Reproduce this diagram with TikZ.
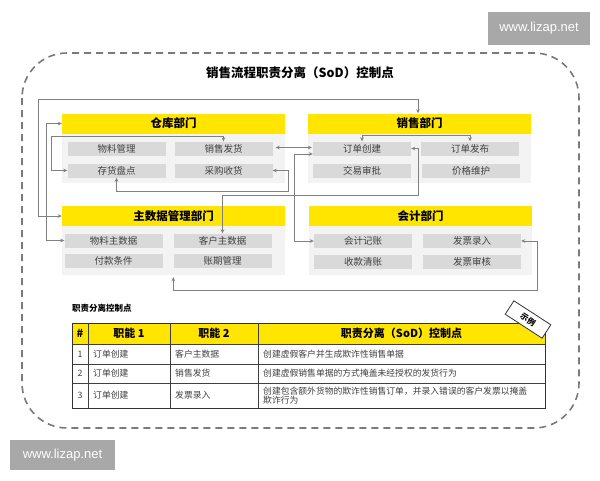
\documentclass[tikz,border=0pt]{standalone}
\usepackage{fontspec}
\setmainfont{Noto Sans CJK SC}
\newfontfamily\wmfont{Liberation Sans}
\usetikzlibrary{arrows.meta,calc}
\definecolor{hdr}{HTML}{FFE500}
\definecolor{itm}{HTML}{D9D9D9}
\definecolor{pnl}{HTML}{F3F3F3}
\definecolor{conn}{HTML}{808080}
\definecolor{dashc}{HTML}{7A7A7A}
\definecolor{wm}{HTML}{A8A8A8}
\definecolor{txt}{HTML}{404040}
\begin{document}
\begin{tikzpicture}[x=1pt,y=-1pt,
  hdrbox/.style={fill=hdr, minimum width=223pt, minimum height=20pt, inner sep=0pt, font=\bfseries\fontsize{11.5}{12}\selectfont},
  panel/.style={fill=pnl, minimum width=223pt, inner sep=0pt},
  item/.style={fill=itm, minimum width=98pt, minimum height=14pt, inner sep=0pt, text=txt, font=\fontsize{9.5}{10}\selectfont},
  conn/.style={draw=conn, line width=0.9pt, {Stealth[length=4pt,width=3.6pt]}-{Stealth[length=4pt,width=3.6pt]}},
  tbl/.style={draw=black!75, line width=0.8pt},
  th/.style={font=\bfseries\fontsize{11}{12}\selectfont, inner sep=0pt},
  td/.style={font=\fontsize{8.8}{10}\selectfont, text=txt, inner sep=0pt, anchor=west, align=left},
  wmark/.style={fill=wm, text=white, inner sep=0pt, font=\wmfont\fontsize{13}{14}\selectfont}
]
\useasboundingbox (0,0) rectangle (600,480);
\fill[white] (0,0) rectangle (600,480);

% outer dashed frame
\draw[dashc, line width=1.6pt, dash pattern=on 7pt off 5pt, rounded corners=45pt] (22,53) rectangle (579,428);

% watermarks
\node[wmark, minimum width=102pt, minimum height=33pt] (wm1) at (539,28.5) {www.lizap.net};
\node[wmark, minimum width=105pt, minimum height=30pt] (wm2) at (62.5,455) {www.lizap.net};

% title
\node[font=\bfseries\fontsize{12.5}{14}\selectfont] (title) at (300,73) {销售流程职责分离（SoD）控制点};

% panels
\node[panel, minimum height=49pt] (whP) at (173.5,158) {};
\node[panel, minimum height=49pt] (saP) at (419.5,158) {};
\node[panel, minimum height=49pt] (mdP) at (173.5,250.5) {};
\node[panel, minimum height=49pt] (acP) at (420.5,250.5) {};

% headers
\node[hdrbox] (whH) at (173.5,123.5) {仓库部门};
\node[hdrbox] (saH) at (419.5,123.5) {销售部门};
\node[hdrbox] (mdH) at (173.5,216) {主数据管理部门};
\node[hdrbox] (acH) at (420.5,216) {会计部门};

% warehouse items
\node[item] (wlgl) at (116.5,148.5) {物料管理};
\node[item] (xsfh) at (223.5,148.5) {销售发货};
\node[item] (chpd) at (116.5,170.5) {存货盘点};
\node[item] (cgsh) at (223.5,170.5) {采购收货};
% sales items
\node[item] (ddcj) at (362,148.5) {订单创建};
\node[item] (ddfb) at (470,148.5) {订单发布};
\node[item] (jysp) at (362,170.5) {交易审批};
\node[item] (jgwh) at (471,170.5) {价格维护};
% master data items
\node[item] (wlzsj) at (113.5,240.5) {物料主数据};
\node[item] (khzsj) at (222.5,240.5) {客户主数据};
\node[item] (fktj) at (113.5,261) {付款条件};
\node[item] (zqgl) at (222.5,261) {账期管理};
% accounting items
\node[item] (kjjz) at (363,241) {会计记账};
\node[item] (fplr) at (472,241) {发票录入};
\node[item] (skqz) at (363,261.5) {收款清账};
\node[item] (fpsh) at (472,261.5) {发票审核};

% connectors
\coordinate (b1) at (418,99);
\coordinate (b2) at (38,99);
\draw[conn] (saH.north -| b1) -- (b1) -- (b2) |- (mdH.west);
\draw[conn] (whH.west) -- ++(-15,0) |- (wlzsj.west);
\coordinate (c1) at (51,136.5);
\draw[conn] (xsfh.north) |- (c1) |- (chpd.west);
\draw[conn, shorten <=3pt, shorten >=1pt] ($(xsfh.east)+(0,-1)$) -- ($(ddcj.west)+(0,-1)$);
\coordinate (e1) at (294,154);
\draw[conn] ($(ddcj.west)+(0,5.5)$) -- (e1) |- (kjjz.west);
\draw[conn] (ddcj.north) -- ++(0,-6) -| (ddfb.north);
\coordinate (f1) at (288,191.5);
\draw[conn] (chpd.south) |- (f1) |- (cgsh.east);
\coordinate (g1) at (418,195);
\draw[conn] (ddcj.east) -| (g1) -| (khzsj.north);
\coordinate (h1) at (537,290);
\coordinate (h2) at ($(zqgl.west |- mdP.south)+(0,2)$);
\draw[conn] (fplr.east) -| (h1) -| (h2);

% table caption
\node[font=\bfseries\fontsize{8.5}{10}\selectfont, anchor=west, inner sep=0pt] (cap) at (72,308) {职责分离控制点};

% table
\fill[hdr] (72,323) rectangle (545,344);
\draw[tbl] (72,344) -- (545,344);
\draw[tbl] (72,364) -- (545,364);
\draw[tbl] (72,383) -- (545,383);
\draw[tbl] (88,323) -- (88,408);
\draw[tbl] (170,323) -- (170,408);
\draw[tbl] (258,323) -- (258,408);
\draw[draw=black!80, line width=1pt] (72,323) rectangle (545,408);

\node[th] (h0) at (80,333.5) {\#};
\node[th] (h1t) at (129,333.5) {职能 1};
\node[th] (h2t) at (214,333.5) {职能 2};
\node[th] (h3t) at (401.5,333.5) {职责分离（SoD）控制点};

\node[td, anchor=center] (n1) at (80,354) {1};
\node[td, anchor=center] (n2) at (80,373.5) {2};
\node[td, anchor=center] (n3) at (80,395.5) {3};
\node[td] (r1a) at (93,354) {订单创建};
\node[td] (r2a) at (93,373.5) {订单创建};
\node[td] (r3a) at (93,395.5) {订单创建};
\node[td] (r1b) at (175,354) {客户主数据};
\node[td] (r2b) at (175,373.5) {销售发货};
\node[td] (r3b) at (175,395.5) {发票录入};
\node[td] (r1c) at (263,354) {创建虚假客户并生成欺诈性销售单据};
\node[td] (r2c) at (263,373.5) {创建虚假销售单据的方式掩盖未经授权的发货行为};
\node[td, font=\fontsize{8.8}{8.8}\selectfont] (r3c) at (263,395.5) {创建包含额外货物的欺诈性销售订单，并录入错误的客户发票以掩盖\\欺诈行为};

% tag
\node[draw=black!80, line width=0.8pt, fill=white, rotate=-33, minimum width=44pt, minimum height=16pt, inner sep=0pt, font=\bfseries\fontsize{8}{9}\selectfont] (tag) at (528,319.5) {示例};
\end{tikzpicture}
\end{document}
